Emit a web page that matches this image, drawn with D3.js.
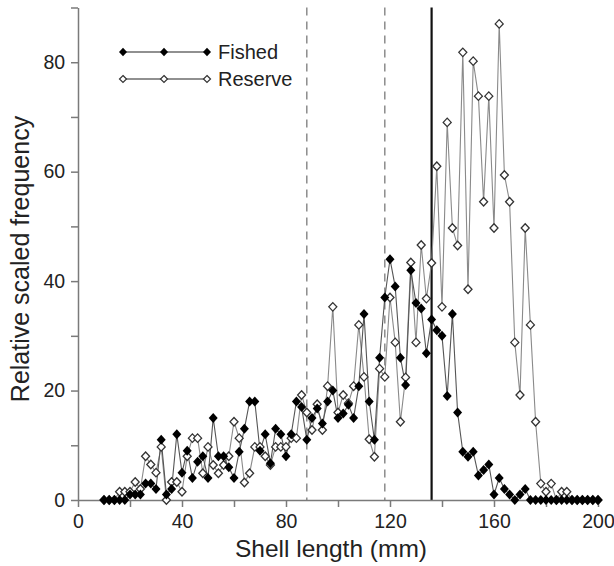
<!DOCTYPE html>
<html><head><meta charset="utf-8">
<script src="https://cdn.jsdelivr.net/npm/d3@7/dist/d3.min.js"></script>
<style>
html,body{margin:0;padding:0;background:#fff;}
svg{display:block;font-family:"Liberation Sans",Arial,Helvetica,sans-serif;}
</style></head>
<body>
<svg id="chart" width="614" height="566"></svg>
<script>
// Shell length bins (mm)
const lengths = d3.range(10, 201, 2);
// Relative scaled frequency, fished sites
const fished = [0,0,0,0,0,1,1,1,3,3,2,11,1,2,12,5,9,4,7,8,
  4,15,8,8,6,4,8.8,13,18,18,9,12,6.7,13,12,8,12,18,17,11,
  15,16.7,14,18,20,15,15.8,17.4,15,20.8,34,18,11,26,37,44,39,26,21,42,
  36,35,26.8,33,31,30,19,34,16,8.8,7.9,8.8,4.5,5.5,6.5,1,4,2,1,0,
  1,2,0,0,0,0,0,0,0,0,0,0,0,0,0,0];
// Relative scaled frequency, reserve sites
const reserve = [0,0,0,1.5,1.5,1.5,3.3,2,8,6.5,5,9.7,0,3.3,3.3,1.5,8,11.3,11.3,4.9,
  9.7,6.4,4.9,6.4,8,14.3,11.3,3.2,4.9,9.7,9.7,8,6.4,9.7,9.7,9.7,11.3,11.3,19.2,16,
  12.8,17.5,12.8,20.8,35.3,16,19.2,17.7,20.8,32,22.5,11.1,7.9,24,22.5,37,28.8,14.3,22.4,43.4,
  28.8,46.6,36.8,43.3,61,35.3,69,49.7,46.5,81.8,38.5,80.2,73.8,54.5,73.8,49.7,87,59.4,54.5,28.8,
  19.2,49.7,32,14.3,3,1.5,3,0,1.5,1.5,0,0,0,0,0,0];
const xTicks = [0,20,40,60,80,100,120,140,160,180,200];
const xLabels = [0,40,80,120,160,200];
const yTicks = [0,10,20,30,40,50,60,70,80,90];
const yLabels = [0,20,40,60,80];
const dashedRefs = [88, 118];
const solidRef = 136;
const seriesNames = ["Fished", "Reserve"];

const svg = d3.select("#chart");
const x = d3.scaleLinear().domain([0, 200]).range([78, 598]);
const y = d3.scaleLinear().domain([0, 90]).range([500, 7.5]);
const axisColor = "#7a7a7a";

function diamond(w, h) {
  return `M0,${-h/2}L${w/2},0L0,${h/2}L${-w/2},0Z`;
}

// reference lines
svg.selectAll("line.dash").data(dashedRefs).enter().append("line")
  .attr("x1", d => x(d)).attr("x2", d => x(d))
  .attr("y1", y(90)).attr("y2", y(0))
  .attr("stroke", "#8c8c8c").attr("stroke-width", 1.5)
  .attr("stroke-dasharray", "8,6");
svg.append("line")
  .attr("x1", x(solidRef)).attr("x2", x(solidRef))
  .attr("y1", y(90)).attr("y2", y(0))
  .attr("stroke", "#111").attr("stroke-width", 2.2);

// axes
const xAxis = svg.append("g").attr("transform", `translate(0,${y(0)})`)
  .call(d3.axisBottom(x).tickValues(xTicks).tickSize(7).tickSizeOuter(0)
    .tickFormat(d => xLabels.includes(d) ? d : ""));
const yAxis = svg.append("g").attr("transform", `translate(${x(0)},0)`)
  .call(d3.axisLeft(y).tickValues(yTicks).tickSize(7).tickSizeOuter(0)
    .tickFormat(d => yLabels.includes(d) ? d : ""));
[xAxis, yAxis].forEach(g => {
  g.select(".domain").attr("stroke", axisColor).attr("stroke-width", 1.5);
  g.selectAll(".tick line").attr("stroke", axisColor).attr("stroke-width", 1.5);
  g.selectAll(".tick text").attr("fill", "#222").attr("font-size", 19.5)
    .attr("font-family", "Liberation Sans, Arial, sans-serif");
});
xAxis.selectAll(".tick text").attr("dy", "0.9em");
yAxis.selectAll(".tick text").attr("dx", "-0.15em");

// axis titles
svg.append("text").attr("x", 331).attr("y", 557).attr("text-anchor", "middle")
  .attr("font-size", 24.5).attr("fill", "#222").text("Shell length (mm)");
svg.append("text").attr("transform", "translate(29,259) rotate(-90)")
  .attr("text-anchor", "middle").attr("font-size", 25).attr("fill", "#222")
  .text("Relative scaled frequency");

// series
const rows = lengths.map((l, i) => ({l, f: fished[i], r: reserve[i]}));
const line = key => d3.line().x(d => x(d.l)).y(d => y(d[key]));

svg.append("path").datum(rows).attr("d", line("r"))
  .attr("fill", "none").attr("stroke", "#8a8a8a").attr("stroke-width", 1.1);
svg.append("path").datum(rows).attr("d", line("f"))
  .attr("fill", "none").attr("stroke", "#555").attr("stroke-width", 1.1);

svg.selectAll("path.rpt").data(rows).enter().append("path")
  .attr("transform", d => `translate(${x(d.l)},${y(d.r)})`)
  .attr("d", diamond(8, 8.5)).attr("fill", "#fff")
  .attr("stroke", "#333").attr("stroke-width", 1.3);
svg.selectAll("path.fpt").data(rows).enter().append("path")
  .attr("transform", d => `translate(${x(d.l)},${y(d.f)})`)
  .attr("d", diamond(9, 10)).attr("fill", "#000");

// legend
const legend = svg.append("g");
const ly = [52, 79];
seriesNames.forEach((name, i) => {
  legend.append("line").attr("x1", 123).attr("x2", 207)
    .attr("y1", ly[i]).attr("y2", ly[i]).attr("stroke", "#222").attr("stroke-width", 1.2);
  [123, 164, 207].forEach(px => {
    legend.append("path").attr("transform", `translate(${px},${ly[i]})`)
      .attr("d", diamond(i === 0 ? 8 : 7, i === 0 ? 8.5 : 7))
      .attr("fill", i === 0 ? "#000" : "#fff")
      .attr("stroke", i === 0 ? "none" : "#333").attr("stroke-width", 1.2);
  });
  legend.append("text").attr("x", 218).attr("y", ly[i] + 7)
    .attr("font-size", 20).attr("fill", "#222").text(name);
});
</script>
</body></html>
